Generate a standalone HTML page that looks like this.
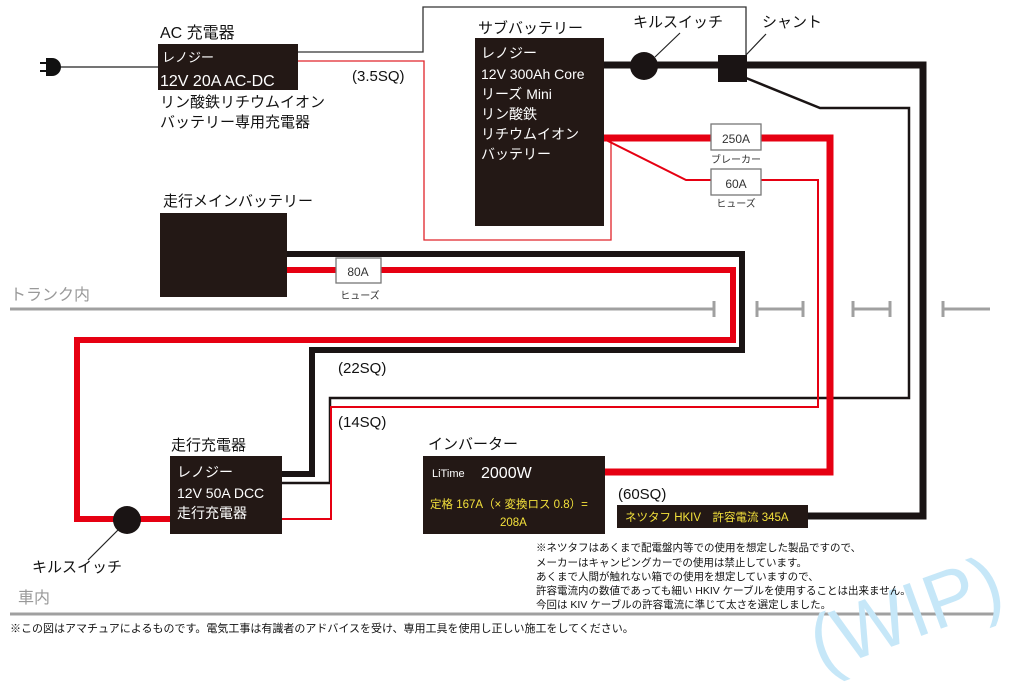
<!DOCTYPE html>
<html><head><meta charset="utf-8"><style>
body{margin:0;background:#fff;}
svg{display:block;font-family:"Liberation Sans","Noto Sans CJK JP",sans-serif;}
</style></head><body>
<svg width="1024" height="684" viewBox="0 0 1024 684" xmlns="http://www.w3.org/2000/svg">
<!-- gray lines -->
<g stroke="#a0a0a0" stroke-width="3" fill="none">
<line x1="10" y1="309" x2="714" y2="309"/><line x1="714" y1="301" x2="714" y2="317"/>
<line x1="757" y1="309" x2="803" y2="309"/><line x1="757" y1="301" x2="757" y2="317"/><line x1="803" y1="301" x2="803" y2="317"/>
<line x1="853" y1="309" x2="890" y2="309"/><line x1="853" y1="301" x2="853" y2="317"/><line x1="890" y1="301" x2="890" y2="317"/>
<line x1="943" y1="309" x2="990" y2="309"/><line x1="943" y1="301" x2="943" y2="317"/>
<line x1="10" y1="614" x2="997" y2="614"/>
</g>
<text x="10" y="300" font-size="16" fill="#999">トランク内</text>
<text x="18" y="603" font-size="16" fill="#999">車内</text>
<!-- WIP -->
<text x="905" y="640" font-size="78" text-anchor="middle" fill="#c6e7f8" transform="rotate(-20 905 612)" font-family="Liberation Sans">(WIP)</text>

<!-- AC charger wires -->
<line x1="50" y1="67" x2="160" y2="67" stroke="#222" stroke-width="1.3"/>
<path d="M40,62 h6 v-4 h6 a8,8 0 0 1 0,18 h-6 v-4 h-6 v-2 h6 v-6 h-6z" fill="#111"/>
<polyline points="298,52 423,52 423,7 746,7 746,56" fill="none" stroke="#333" stroke-width="1.3"/>
<polyline points="298,61 424,61 424,240 611,240 611,140" fill="none" stroke="#e0242a" stroke-width="1.3"/>

<!-- sub battery black main -->
<polyline points="604,65 923,65 923,516 800,516" fill="none" stroke="#1a1414" stroke-width="7"/>
<circle cx="644" cy="66" r="14" fill="#1a1414"/>
<rect x="718" y="55" width="29" height="27" fill="#1a1414"/>
<line x1="655" y1="57" x2="680" y2="33" stroke="#222" stroke-width="1.2"/>
<line x1="746" y1="55" x2="766" y2="34" stroke="#222" stroke-width="1.2"/>
<polyline points="746,78 820,108 909,108 909,398 330,398 330,483 282,483" fill="none" stroke="#1a1414" stroke-width="2.5"/>
<!-- thick red 250A -->
<polyline points="604,138 830,138 830,472 604,472" fill="none" stroke="#e60012" stroke-width="7"/>
<!-- thin red 60A -->
<polyline points="606,140 686,180 818,180 818,407 331,407 331,519 282,519" fill="none" stroke="#e60012" stroke-width="2"/>
<rect x="711" y="124" width="50" height="26" fill="#fff" stroke="#777" stroke-width="1.3"/>
<text x="736" y="143" font-size="12" text-anchor="middle" fill="#333">250A</text>
<text x="736" y="163" font-size="10" text-anchor="middle" fill="#333">ブレーカー</text>
<rect x="711" y="169" width="50" height="26" fill="#fff" stroke="#777" stroke-width="1.3"/>
<text x="736" y="188" font-size="12" text-anchor="middle" fill="#333">60A</text>
<text x="736" y="207" font-size="10" text-anchor="middle" fill="#333">ヒューズ</text>

<!-- main battery wires -->
<polyline points="287,254 742,254 742,350 312,350 312,474 282,474" fill="none" stroke="#1a1414" stroke-width="6"/>
<polyline points="287,270 733,270 733,340 77,340 77,519 170,519" fill="none" stroke="#e60012" stroke-width="6"/>
<rect x="336" y="258" width="45" height="25" fill="#fff" stroke="#777" stroke-width="1.3"/>
<text x="358" y="276" font-size="12" text-anchor="middle" fill="#333">80A</text>
<text x="360" y="299" font-size="10" text-anchor="middle" fill="#333">ヒューズ</text>
<circle cx="127" cy="520" r="14" fill="#1a1414"/>
<line x1="118" y1="530" x2="88" y2="560" stroke="#222" stroke-width="1.2"/>

<!-- boxes -->
<rect x="158" y="44" width="140" height="46" fill="#231815"/>
<text x="160" y="38" font-size="16" fill="#111">AC 充電器</text>
<text x="162" y="62" font-size="13" fill="#fff">レノジー</text>
<text x="160" y="86" font-size="16" fill="#fff">12V 20A AC-DC</text>
<text x="160" y="107" font-size="15" fill="#111">リン酸鉄リチウムイオン</text>
<text x="160" y="127" font-size="15" fill="#111">バッテリー専用充電器</text>
<text x="352" y="81" font-size="15" fill="#111">(3.5SQ)</text>

<rect x="475" y="38" width="129" height="188" fill="#231815"/>
<text x="478" y="33" font-size="15" fill="#111">サブバッテリー</text>
<g font-size="14" fill="#fff">
<text x="481" y="58">レノジー</text>
<text x="481" y="79">12V 300Ah Core</text>
<text x="481" y="99">リーズ Mini</text>
<text x="481" y="119">リン酸鉄</text>
<text x="481" y="139">リチウムイオン</text>
<text x="481" y="159">バッテリー</text>
</g>
<text x="633" y="27" font-size="15" fill="#111">キルスイッチ</text>
<text x="762" y="27" font-size="15" fill="#111">シャント</text>

<rect x="160" y="213" width="127" height="84" fill="#231815"/>
<text x="163" y="206" font-size="15" fill="#111">走行メインバッテリー</text>

<text x="338" y="373" font-size="15" fill="#111">(22SQ)</text>
<text x="338" y="427" font-size="15" fill="#111">(14SQ)</text>

<rect x="170" y="456" width="112" height="78" fill="#231815"/>
<text x="171" y="450" font-size="15" fill="#111">走行充電器</text>
<g font-size="14" fill="#fff">
<text x="177" y="477">レノジー</text>
<text x="177" y="498">12V 50A DCC</text>
<text x="177" y="518">走行充電器</text>
</g>
<text x="32" y="572" font-size="15" fill="#111">キルスイッチ</text>

<rect x="423" y="456" width="182" height="78" fill="#231815"/>
<text x="428" y="449" font-size="15" fill="#111">インバーター</text>
<text x="432" y="477" font-size="11" fill="#fff">LiTime</text>
<text x="481" y="478" font-size="16" fill="#fff">2000W</text>
<text x="430" y="508" font-size="11.5" fill="#f3e13b">定格 167A（× 変換ロス 0.8）=</text>
<text x="500" y="526" font-size="11.5" fill="#f3e13b">208A</text>
<text x="618" y="499" font-size="15" fill="#111">(60SQ)</text>
<rect x="617" y="505" width="191" height="23" fill="#231815"/>
<text x="625" y="521" font-size="11.5" fill="#f3e13b">ネツタフ HKIV　許容電流 345A</text>

<g font-size="10.5" fill="#111">
<text x="536" y="551">※ネツタフはあくまで配電盤内等での使用を想定した製品ですので、</text>
<text x="536" y="566">メーカーはキャンピングカーでの使用は禁止しています。</text>
<text x="536" y="580">あくまで人間が触れない箱での使用を想定していますので、</text>
<text x="536" y="594">許容電流内の数値であっても細い HKIV ケーブルを使用することは出来ません。</text>
<text x="536" y="608">今回は KIV ケーブルの許容電流に準じて太さを選定しました。</text>
</g>
<text x="10" y="632" font-size="11" fill="#111">※この図はアマチュアによるものです。電気工事は有識者のアドバイスを受け、専用工具を使用し正しい施工をしてください。</text>
</svg>
</body></html>
